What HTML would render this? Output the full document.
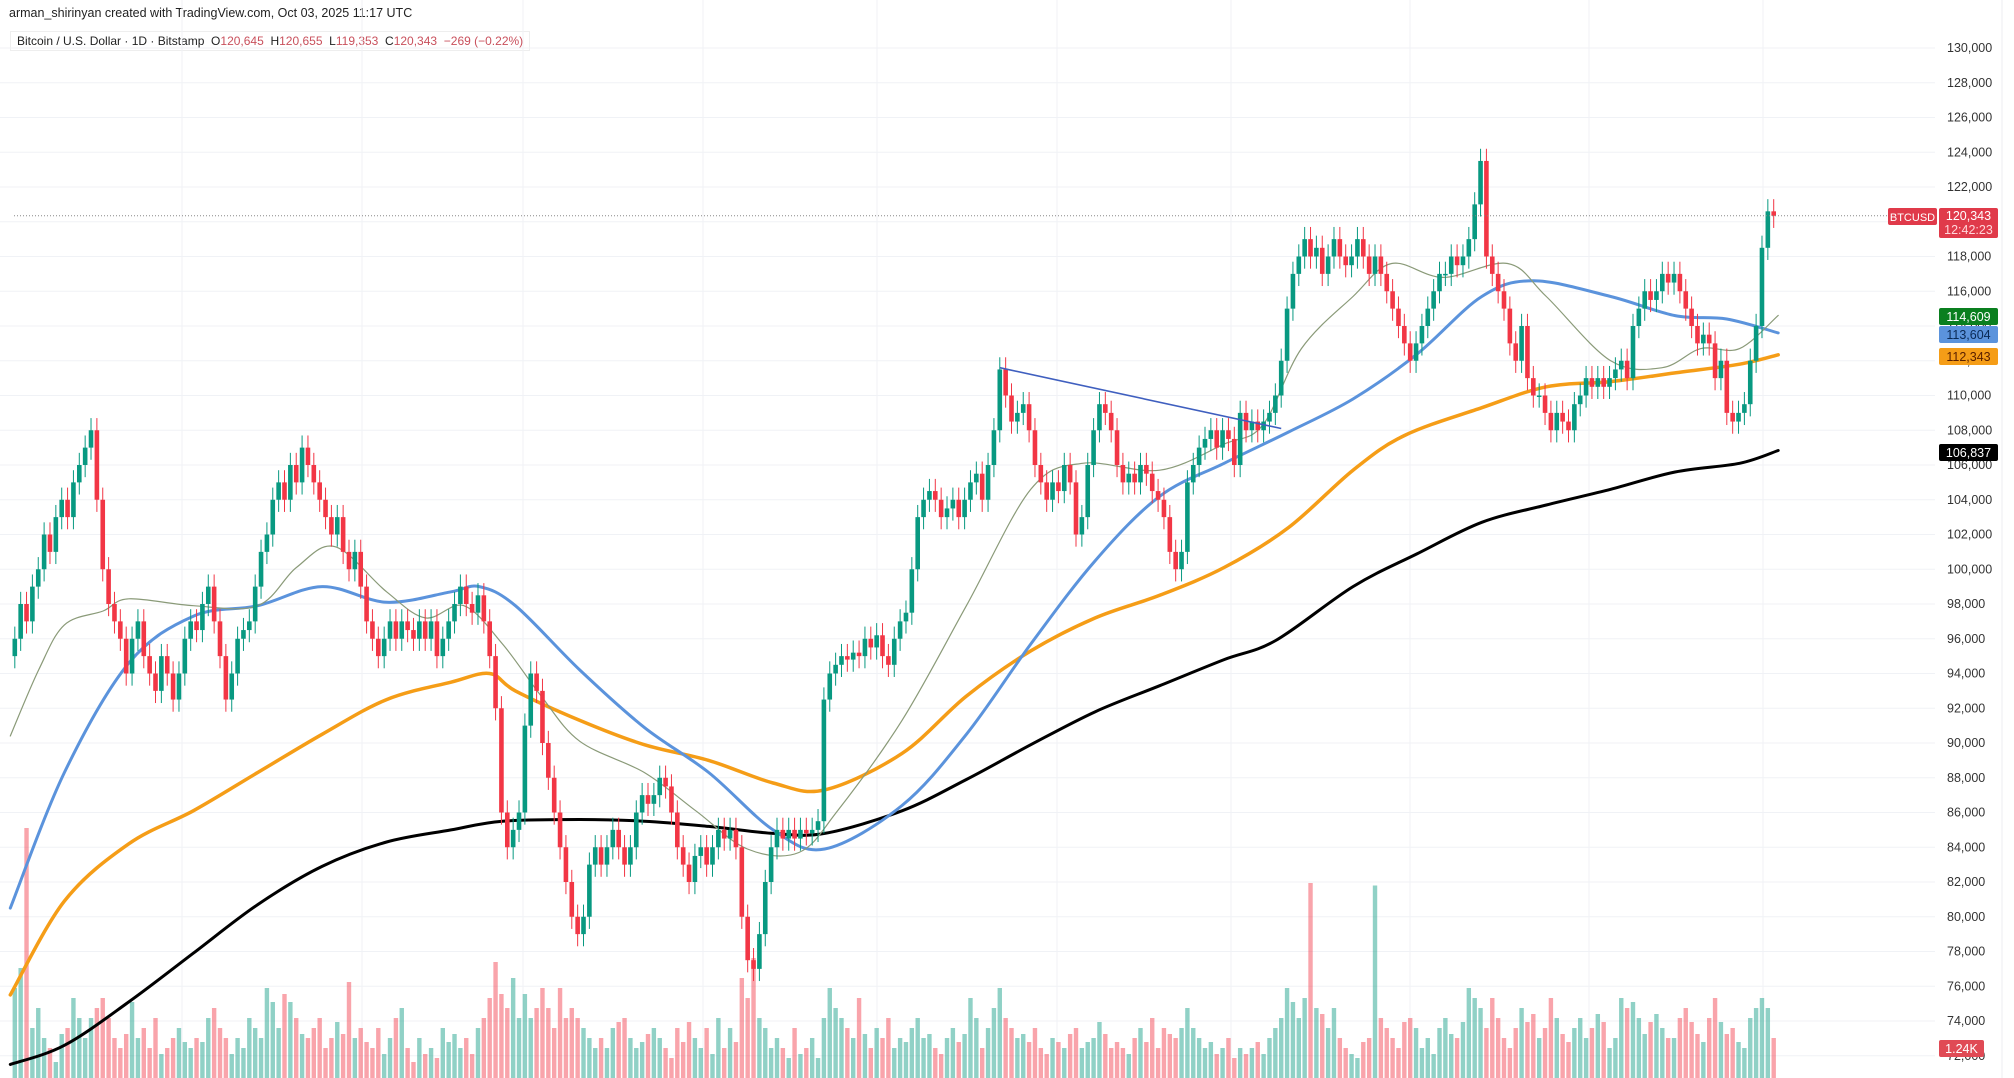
<!DOCTYPE html>
<html><head><meta charset="utf-8">
<style>
html,body{margin:0;padding:0;background:#fff;width:2014px;height:1078px;overflow:hidden;font-family:"Liberation Sans",sans-serif;}
#hdr{position:absolute;left:9px;top:6px;font-size:12.5px;color:#222;}
#legend{position:absolute;left:10px;top:31px;font-size:12px;color:#222;padding:2px 6px;border:1px solid #eee;}
#legend .v{color:#c9505c;}
svg{position:absolute;left:0;top:0;}
</style></head><body>
<div id="hdr">arman_shirinyan created with TradingView.com, Oct 03, 2025 11:17 UTC</div>
<div id="legend">Bitcoin / U.S. Dollar · 1D · Bitstamp&nbsp; O<span class="v">120,645</span>&nbsp; H<span class="v">120,655</span>&nbsp; L<span class="v">119,353</span>&nbsp; C<span class="v">120,343</span>&nbsp; <span class="v">−269 (−0.22%)</span></div>
<svg id="chart" width="2014" height="1078"></svg>
<script>
const closes=[
96,98,97,99,100,102,101,103,104,103,
105,106,107,108,104,100,98,97,96,94,
96,97,95,94,93,95,94,92.5,94,96,
97,96.5,98,99,97,95,92.5,94,96,96.5,
97,99,101,102,104,105,104,106,105,107,
106,105,104,103,102,103,101,100,101,99,
97,96,95,96,97,96,97,96.5,96,97,
96,97,95,96,97,98,99,98,97.5,98.5,
97,95,92,86,84,85,86,91,94,93,
90,88,86,84,82,80,79,80,83,84,
83,84,85,84,83,84,86,87,86.5,87,
88,87.5,86,84,83,82,83.5,84,83,84,
85,84.5,85,84,80,77.5,77,79,82,84,
85,84.5,85,84.5,85,84.8,85,85.5,92.5,94,
94.5,95,94.8,95.2,95,96,95.5,96.2,95,94.5,
96,97,97.5,100,103,104,104.5,104,103,103.5,
104,103,104,105,105.5,104,106,108,111.5,110,
108.5,109,109.5,108,106,105,104,105,104.5,106,
105,102,103,106,108,109.5,109,108,106,105,
105.5,105,106,105.5,104.5,104,103,101,100,101,
105,106,107,107.5,108,107,108,107.5,106,109,
108,108.5,108,108.5,109,110,112,115,117,118,
119,118,118.5,117,118,119,118,117.5,118,119,
118,117,118,117,116,115,114,113,112,113,
114,115,116,117,117,118,117.5,118,119,121,
123.5,118,117,116,115,113,112,114,111,110,
110,109,108,109,108.5,108,109.5,110,111,110.5,
111,110.5,111,111.5,112,111,114,115,116,115.5,
116,117,116.5,117,116,115,114,113,113.5,113,
111,112,109,108.5,109,109.5,112,114,118.5,120.6,
120.343];
const volumes=[
45,55,100,25,35,20,15,8,22,25,
40,30,20,30,35,40,30,20,15,22,
38,20,25,15,30,12,15,20,25,18,
15,20,18,30,35,25,20,12,20,15,
30,25,20,45,38,25,42,38,30,22,
20,25,30,15,20,28,22,48,20,25,
18,15,25,12,20,30,35,15,8,20,
12,15,10,25,18,22,15,20,12,25,
30,40,58,42,35,50,30,42,30,35,
45,35,25,45,30,35,30,25,20,15,
20,15,25,28,30,20,15,18,22,25,
20,15,10,25,18,28,20,15,25,12,
30,15,25,18,50,40,60,30,25,15,
20,15,10,25,12,15,20,10,30,45,
35,30,25,20,40,22,15,25,20,30,
15,20,18,25,30,20,22,15,12,20,
25,18,22,40,30,15,25,35,45,30,
25,20,22,18,25,15,12,20,18,15,
22,25,15,18,20,28,22,15,18,15,
12,20,25,18,30,15,25,22,20,25,
35,25,20,15,18,12,15,20,10,15,
12,15,18,12,20,25,30,45,38,30,
40,78,35,32,25,35,20,15,12,10,
18,20,77,30,25,20,15,28,30,25,
15,20,12,25,30,22,20,28,45,40,
35,25,40,30,20,15,25,35,28,32,
20,25,40,30,22,18,25,30,20,25,
32,28,15,20,40,35,38,30,22,28,
32,25,20,20,30,35,28,22,18,30,
40,28,22,25,18,15,30,35,40,35,
20];
const firstOpen=95;
const wick=0.7;
const maX=[8,50,100,150,200,250,300,350,390,450,500,550,600,640,700,750,800,850,900,950,990,1050,1100,1150,1200,1250,1300,1350,1380];
const ma200=[71.5,72.6,75.1,77.9,80.7,82.9,84.3,85.0,85.5,85.6,85.5,85.2,84.8,84.8,86.1,87.9,89.9,91.8,93.3,94.8,95.9,99.0,100.9,102.7,103.7,104.6,105.6,106.1,106.837];
const ma100X=[8,50,100,150,200,250,300,350,380,400,450,500,550,600,640,700,750,800,850,900,950,1000,1050,1090,1150,1200,1250,1300,1350,1380];
const ma100=[75.5,80.9,84.2,86.1,88.3,90.5,92.5,93.5,94.0,93.0,91.3,89.9,89.0,87.7,87.3,89.4,92.7,95.3,97.2,98.5,100.1,102.4,105.7,107.7,109.3,110.5,110.8,111.3,111.8,112.343];
const ma50X=[8,50,100,150,200,250,300,350,372,400,450,500,550,600,640,700,750,800,850,900,950,1000,1050,1100,1150,1190,1250,1300,1340,1380];
const ma50=[80.5,88.3,94.6,97.3,97.9,99.0,98.1,98.7,99.0,97.9,94.2,90.9,88.3,85.0,83.9,86.4,90.5,95.7,100.5,104.2,106.1,107.9,109.8,112.4,115.7,116.6,115.7,114.6,114.4,113.604];
const ma20X=[8,30,50,80,100,150,200,230,260,300,330,360,390,420,450,500,540,580,620,650,700,750,800,840,900,950,980,1010,1050,1080,1120,1170,1200,1250,1290,1320,1350,1380];
const ma20=[90.4,94.2,96.8,97.6,98.3,97.9,97.9,100.1,101.3,98.7,97.2,97.9,95.7,92.7,90.1,88.3,86.1,83.9,83.7,86.1,91.3,97.9,104.6,106.1,105.7,107.2,108.3,112.7,115.7,117.6,116.8,117.6,115.7,112.0,111.6,112.7,112.7,114.609];
const trendIdx=[168,216];
const trendVal=[111.6,108.1];
const yTicks=[130,128,126,124,122,120,118,116,114,112,110,108,106,104,102,100,98,96,94,92,90,88,86,84,82,80,78,76,74,72];
const vGrid=[182,362,523,703,877,1057,1231,1410,1589,1763];

const NS="http://www.w3.org/2000/svg";
const svg=document.getElementById('chart');
function yS(p){return 187+(122-p)*17.375;}
function xS(i){return 14.8+5.863*i;}
function xR(rx){return xS((rx-11.5)/4.55);}
function vS(v){return v/100*250*(v>70?1:0.8);}
function mk(tag,attrs,parent){const e=document.createElementNS(NS,tag);for(const k in attrs)e.setAttribute(k,attrs[k]);(parent||svg).appendChild(e);return e;}

const grid=mk('g',{});


yTicks.forEach(t=>{mk('line',{x1:0,x2:1935,y1:yS(t),y2:yS(t),stroke:'#f0f2f6','stroke-width':1},grid);});
vGrid.forEach(x=>{mk('line',{x1:x,x2:x,y1:0,y2:1078,stroke:'#f0f2f6','stroke-width':1},grid);});
mk('line',{x1:2002,x2:2002,y1:0,y2:1078,stroke:'#eceef2','stroke-width':1},grid);

const vol=mk('g',{});


closes.forEach((c,i)=>{
 const o=i===0?firstOpen:closes[i-1];
 const h=vS(volumes[i]);
 const r=mk('rect',{x:xS(i)-2.2,y:1078-h,width:4.4,height:h,fill:c>=o?'rgba(8,153,129,0.45)':'rgba(242,54,69,0.45)'},vol);
 
 
});

function line(xs,vals,color,w,name){
 const P=vals.map((v,k)=>[xR(xs[k]),yS(v)]);
 let d='M'+P[0][0].toFixed(1)+','+P[0][1].toFixed(1);
 for(let k=0;k<P.length-1;k++){
  const p0=P[Math.max(0,k-1)],p1=P[k],p2=P[k+1],p3=P[Math.min(P.length-1,k+2)];
  const c1=[p1[0]+(p2[0]-p0[0])/6,p1[1]+(p2[1]-p0[1])/6];
  const c2=[p2[0]-(p3[0]-p1[0])/6,p2[1]-(p3[1]-p1[1])/6];
  d+=' C'+c1[0].toFixed(1)+','+c1[1].toFixed(1)+' '+c2[0].toFixed(1)+','+c2[1].toFixed(1)+' '+p2[0].toFixed(1)+','+p2[1].toFixed(1);
 }
 const pl=mk('path',{d:d,fill:'none',stroke:color,'stroke-width':w,'stroke-linejoin':'round','stroke-linecap':'round'});
 
 
}
line(maX,ma200,'#000',3,'ma-200-line');
line(ma100X,ma100,'#f59d17',3.5,'ma-100-line');
line(ma50X,ma50,'#5b93dc',3,'ma-50-line');
line(ma20X,ma20,'#8a9a78',1.2,'ma-20-line');

const cg=mk('g',{});


closes.forEach((c,i)=>{
 const o=i===0?firstOpen:closes[i-1];
 const col=c>=o?'#089981':'#f23645';
 const x=xS(i);
 const g=mk('g',{},cg);
 
 
 mk('line',{x1:x,x2:x,y1:yS(Math.max(o,c)+wick),y2:yS(Math.min(o,c)-wick),stroke:col,'stroke-width':1},g);
 const top=yS(Math.max(o,c)),bh=Math.max(1.5,yS(Math.min(o,c))-top);
 mk('rect',{x:x-2.3,y:top,width:4.6,height:bh,fill:col},g);
});

const tl=mk('line',{x1:xS(trendIdx[0]),y1:yS(trendVal[0]),x2:xS(trendIdx[1]),y2:yS(trendVal[1]),stroke:'#3f5fbf','stroke-width':1.6});



const last=closes[closes.length-1];
const dl=mk('line',{x1:14,x2:1888,y1:yS(last),y2:yS(last),stroke:'#888','stroke-width':1,'stroke-dasharray':'1,2'});



const ax=mk('g',{'font-family':'Liberation Sans, sans-serif','font-size':'12.5','fill':'#333'});


yTicks.forEach(t=>{
 const tx=mk('text',{x:1947,y:yS(t)+4},ax);
 tx.textContent=(t*1000).toLocaleString('en-US');
 
 
});

function badge(x,y,w,h,bg,fg,txt,name,txt2,fs){
 const g=mk('g',{});
 
 
 mk('rect',{x:x,y:y,width:w,height:h,fill:bg,rx:2},g);
 const t=mk('text',{x:x+w/2,y:txt2?y+12:y+h/2+4.5,'text-anchor':'middle','font-size':fs||'12.5','font-family':'Liberation Sans, sans-serif',fill:fg},g);
 t.textContent=txt;
 if(txt2){const t2=mk('text',{x:x+w/2,y:y+26,'text-anchor':'middle','font-size':'12.5','font-family':'Liberation Sans, sans-serif',fill:'#ffd6da'},g);t2.textContent=txt2;}
}
badge(1888,208,49,17,'#e03a4a','#fff','BTCUSD','symbol-badge',null,'11');
badge(1939,208,59,30,'#e03a4a','#fff','120,343','last-price-badge','12:42:23');
badge(1939,308,59,17,'#0a7f1f','#fff','114,609','ma-20-badge');
badge(1939,326,59,17,'#5b93dc','#0a2a55','113,604','ma-50-badge');
badge(1939,348,59,17,'#f59d17','#5a2000','112,343','ma-100-badge');
badge(1939,444,59,17,'#000','#fff','106,837','ma-200-badge');
badge(1939,1040,45,17,'#e04a55','#fff','1.24K','volume-badge');
</script>
</body></html>
